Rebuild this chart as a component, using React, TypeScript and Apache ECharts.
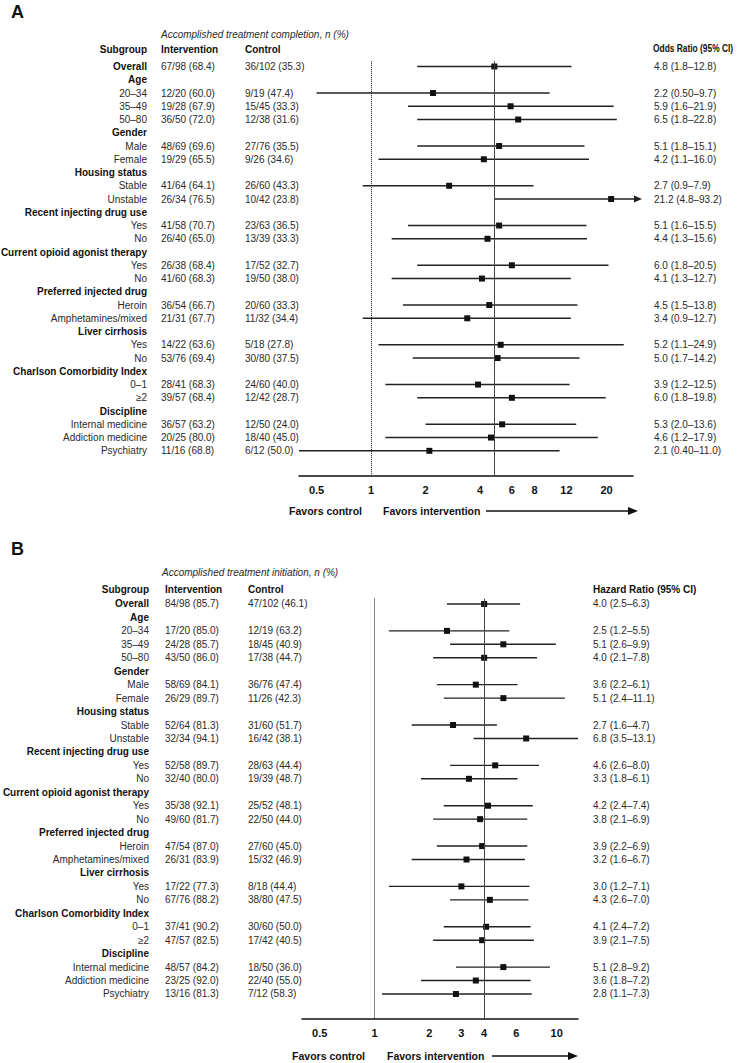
import React, { useEffect, useRef } from "react";
import * as echarts from "echarts";

// ---------- DATA ----------
const subgroups = [
  "Overall", "Age", "20–34", "35–49", "50–80", "Gender", "Male", "Female",
  "Housing status", "Stable", "Unstable", "Recent injecting drug use", "Yes", "No",
  "Current opioid agonist therapy", "Yes", "No", "Preferred injected drug", "Heroin",
  "Amphetamines/mixed", "Liver cirrhosis", "Yes", "No", "Charlson Comorbidity Index",
  "0–1", "≥2", "Discipline", "Internal medicine", "Addiction medicine", "Psychiatry",
];
const boldRows = [0, 1, 5, 8, 11, 14, 17, 20, 23, 26];

// Panel A: treatment completion (odds ratios)
const aIntervention = [
  "67/98 (68.4)", "", "12/20 (60.0)", "19/28 (67.9)", "36/50 (72.0)", "", "48/69 (69.6)", "19/29 (65.5)",
  "", "41/64 (64.1)", "26/34 (76.5)", "", "41/58 (70.7)", "26/40 (65.0)",
  "", "26/38 (68.4)", "41/60 (68.3)", "", "36/54 (66.7)",
  "21/31 (67.7)", "", "14/22 (63.6)", "53/76 (69.4)", "",
  "28/41 (68.3)", "39/57 (68.4)", "", "36/57 (63.2)", "20/25 (80.0)", "11/16 (68.8)",
];
const aControl = [
  "36/102 (35.3)", "", "9/19 (47.4)", "15/45 (33.3)", "12/38 (31.6)", "", "27/76 (35.5)", "9/26 (34.6)",
  "", "26/60 (43.3)", "10/42 (23.8)", "", "23/63 (36.5)", "13/39 (33.3)",
  "", "17/52 (32.7)", "19/50 (38.0)", "", "20/60 (33.3)",
  "11/32 (34.4)", "", "5/18 (27.8)", "30/80 (37.5)", "",
  "24/60 (40.0)", "12/42 (28.7)", "", "12/50 (24.0)", "18/40 (45.0)", "6/12 (50.0)",
];
const aRatio = [
  "4.8", "", "2.2", "5.9", "6.5", "", "5.1", "4.2",
  "", "2.7", "21.2", "", "5.1", "4.4",
  "", "6.0", "4.1", "", "4.5",
  "3.4", "", "5.2", "5.0", "",
  "3.9", "6.0", "", "5.3", "4.6", "2.1",
];
const aLower = [
  "1.8", "", "0.50", "1.6", "1.8", "", "1.8", "1.1",
  "", "0.9", "4.8", "", "1.6", "1.3",
  "", "1.8", "1.3", "", "1.5",
  "0.9", "", "1.1", "1.7", "",
  "1.2", "1.8", "", "2.0", "1.2", "0.40",
];
const aUpper = [
  "12.8", "", "9.7", "21.9", "22.8", "", "15.1", "16.0",
  "", "7.9", "93.2", "", "15.5", "15.6",
  "", "20.5", "12.7", "", "13.8",
  "12.7", "", "24.9", "14.2", "",
  "12.5", "19.8", "", "13.6", "17.9", "11.0",
];

// Panel B: treatment initiation (hazard ratios)
const bIntervention = [
  "84/98 (85.7)", "", "17/20 (85.0)", "24/28 (85.7)", "43/50 (86.0)", "", "58/69 (84.1)", "26/29 (89.7)",
  "", "52/64 (81.3)", "32/34 (94.1)", "", "52/58 (89.7)", "32/40 (80.0)",
  "", "35/38 (92.1)", "49/60 (81.7)", "", "47/54 (87.0)",
  "26/31 (83.9)", "", "17/22 (77.3)", "67/76 (88.2)", "",
  "37/41 (90.2)", "47/57 (82.5)", "", "48/57 (84.2)", "23/25 (92.0)", "13/16 (81.3)",
];
const bControl = [
  "47/102 (46.1)", "", "12/19 (63.2)", "18/45 (40.9)", "17/38 (44.7)", "", "36/76 (47.4)", "11/26 (42.3)",
  "", "31/60 (51.7)", "16/42 (38.1)", "", "28/63 (44.4)", "19/39 (48.7)",
  "", "25/52 (48.1)", "22/50 (44.0)", "", "27/60 (45.0)",
  "15/32 (46.9)", "", "8/18 (44.4)", "38/80 (47.5)", "",
  "30/60 (50.0)", "17/42 (40.5)", "", "18/50 (36.0)", "22/40 (55.0)", "7/12 (58.3)",
];
const bRatio = [
  "4.0", "", "2.5", "5.1", "4.0", "", "3.6", "5.1",
  "", "2.7", "6.8", "", "4.6", "3.3",
  "", "4.2", "3.8", "", "3.9",
  "3.2", "", "3.0", "4.3", "",
  "4.1", "3.9", "", "5.1", "3.6", "2.8",
];
const bLower = [
  "2.5", "", "1.2", "2.6", "2.1", "", "2.2", "2.4",
  "", "1.6", "3.5", "", "2.6", "1.8",
  "", "2.4", "2.1", "", "2.2",
  "1.6", "", "1.2", "2.6", "",
  "2.4", "2.1", "", "2.8", "1.8", "1.1",
];
const bUpper = [
  "6.3", "", "5.5", "9.9", "7.8", "", "6.1", "11.1",
  "", "4.7", "13.1", "", "8.0", "6.1",
  "", "7.4", "6.9", "", "6.9",
  "6.7", "", "7.1", "7.0", "",
  "7.2", "7.5", "", "9.2", "7.2", "7.3",
];

const aTicks = [0.5, 1, 2, 4, 6, 8, 12, 20];
const bTicks = [0.5, 1, 2, 3, 4, 6, 10];
const aRange = [0.4, 28];
const bRange = [0.4, 13.1];

// ---------- HELPERS ----------
const FONT = '"Liberation Sans", Arial, Helvetica, sans-serif';
const log2 = (v: number) => Math.log(v) / Math.LN2;

type Panel = {
  intervention: string[];
  control: string[];
  ratio: string[];
  lower: string[];
  upper: string[];
  ticks: number[];
  range: number[];
  labelX: number;
  intX: number;
  ctrlX: number;
  ciX: number;
};

const panelA: Panel = {
  intervention: aIntervention, control: aControl, ratio: aRatio, lower: aLower, upper: aUpper,
  ticks: aTicks, range: aRange, labelX: 147, intX: 161, ctrlX: 245, ciX: 654,
};
const panelB: Panel = {
  intervention: bIntervention, control: bControl, ratio: bRatio, lower: bLower, upper: bUpper,
  ticks: bTicks, range: bRange, labelX: 149, intX: 165, ctrlX: 248, ciX: 593,
};

function makeRenderItem(p: Panel) {
  return (params: any, api: any) => {
    const i = params.dataIndex;
    const yPix = api.coord([0, i])[1];
    const bold = boldRows.indexOf(i) >= 0;
    const children: any[] = [];
    const txt = (text: string, x: number, align: string, weight: string) => ({
      type: "text",
      style: {
        text, x, y: yPix, align, verticalAlign: "middle",
        fontSize: 10, fontFamily: FONT, fontWeight: weight,
        fill: weight === "bold" ? "#111" : "#2a2a2a",
      },
    });
    children.push(txt(subgroups[i], p.labelX, "right", bold ? "bold" : "normal"));
    if (p.ratio[i] !== "") {
      const r = parseFloat(p.ratio[i]);
      const lo = parseFloat(p.lower[i]);
      const hi = parseFloat(p.upper[i]);
      children.push(txt(p.intervention[i], p.intX, "left", "normal"));
      children.push(txt(p.control[i], p.ctrlX, "left", "normal"));
      children.push(txt(`${p.ratio[i]} (${p.lower[i]}–${p.upper[i]})`, p.ciX, "left", "normal"));
      const x0 = api.coord([log2(Math.max(lo, p.range[0])), i])[0];
      const over = hi > p.range[1];
      const x1 = api.coord([log2(Math.min(hi, p.range[1])), i])[0];
      if (over) {
        const tip = x1 + 9;
        children.push({
          type: "line",
          shape: { x1: x0, y1: yPix, x2: tip - 5, y2: yPix },
          style: { stroke: "#222", lineWidth: 1.4 },
        });
        children.push({
          type: "polygon",
          shape: { points: [[tip - 8, yPix - 3.5], [tip, yPix], [tip - 8, yPix + 3.5]] },
          style: { fill: "#222" },
        });
      } else {
        children.push({
          type: "line",
          shape: { x1: x0, y1: yPix, x2: x1, y2: yPix },
          style: { stroke: "#222", lineWidth: 1.4 },
        });
      }
      const c = api.coord([log2(r), i]);
      children.push({
        type: "rect",
        shape: { x: c[0] - 3, y: yPix - 3, width: 6, height: 6 },
        style: { fill: "#111" },
      });
    }
    return { type: "group", children };
  };
}

function xAxisFor(p: Panel, gridIndex: number) {
  const custom = p.ticks.map(log2);
  return {
    type: "value",
    gridIndex,
    min: log2(p.range[0]),
    max: log2(p.range[1]),
    axisLine: { show: true, onZero: false, lineStyle: { color: "#111", width: 1.5 } },
    axisTick: { show: false },
    splitLine: { show: false },
    axisLabel: {
      customValues: custom,
      margin: 8,
      fontSize: 11,
      fontWeight: "bold",
      fontFamily: FONT,
      color: "#111",
      formatter: (v: number) => {
        let best = p.ticks[0];
        let d = Infinity;
        for (const t of p.ticks) {
          const dd = Math.abs(log2(t) - v);
          if (dd < d) { d = dd; best = t; }
        }
        return String(best);
      },
    },
  };
}

function yAxisFor(gridIndex: number, max: number) {
  return {
    type: "value",
    gridIndex,
    inverse: true,
    min: -0.4,
    max,
    show: false,
    splitLine: { show: false },
  };
}

function refLines(p: Panel, idx: number) {
  return {
    type: "line",
    xAxisIndex: idx,
    yAxisIndex: idx,
    data: [],
    silent: true,
    markLine: {
      silent: true,
      symbol: "none",
      label: { show: false },
      animation: false,
      data: [
        { xAxis: 0, lineStyle: { type: "dotted", color: "#111", width: 1 } },
        { xAxis: log2(parseFloat(p.ratio[0])), lineStyle: { type: "solid", color: "#444", width: 1 } },
      ],
    },
  };
}

const rowIdx = subgroups.map((_, i) => [0, i]);

function txtG(text: string, x: number, y: number, opts: any = {}) {
  return {
    type: "text",
    x, y,
    scaleX: opts.scaleX ?? 1,
    style: {
      text,
      fontSize: opts.fontSize ?? 10,
      fontWeight: opts.fontWeight ?? "bold",
      fontStyle: opts.fontStyle ?? "normal",
      fontFamily: FONT,
      fill: opts.fill ?? "#111",
      align: opts.align ?? "left",
      verticalAlign: "middle",
    },
  };
}

function arrow(x1: number, x2: number, y: number) {
  return [
    { type: "line", shape: { x1, y1: y, x2: x2 - 6, y2: y }, style: { stroke: "#111", lineWidth: 1.5 } },
    { type: "polygon", shape: { points: [[x2 - 10, y - 4], [x2, y], [x2 - 10, y + 4]] }, style: { fill: "#111" } },
  ];
}

export default function App() {
  const ref = useRef<HTMLDivElement>(null);
  useEffect(() => {
    document.body.style.margin = "0";
    if (!ref.current) return;
    const chart = echarts.init(ref.current, undefined, { renderer: "svg" });
    const option: any = {
      animation: false,
      backgroundColor: "#fff",
      grid: [
        { left: 299, width: 334, top: 61.2, height: 414.8 },
        { left: 302, width: 276, top: 598.6, height: 420.4 },
      ],
      xAxis: [xAxisFor(panelA, 0), xAxisFor(panelB, 1)],
      yAxis: [yAxisFor(0, 30.9), yAxisFor(1, 30.86)],
      series: [
        refLines(panelA, 0),
        refLines(panelB, 1),
        {
          type: "custom",
          xAxisIndex: 0, yAxisIndex: 0,
          clip: false,
          data: rowIdx,
          renderItem: makeRenderItem(panelA),
        },
        {
          type: "custom",
          xAxisIndex: 1, yAxisIndex: 1,
          clip: false,
          data: rowIdx,
          renderItem: makeRenderItem(panelB),
        },
      ],
      graphic: [
        txtG("A", 11, 12, { fontSize: 18 }),
        txtG("Accomplished treatment completion, n (%)", 161, 34, { fontWeight: "normal", fontStyle: "italic", fill: "#2a2a2a" }),
        txtG("Subgroup", 147, 49, { align: "right" }),
        txtG("Intervention", 161, 49),
        txtG("Control", 245, 49),
        txtG("Odds Ratio (95% CI)", 653, 49, { scaleX: 0.84 }),
        txtG("Favors control", 362, 511, { align: "right", fontSize: 10.5 }),
        txtG("Favors intervention", 383, 511, { fontSize: 10.5 }),
        ...arrow(486, 638, 511),

        txtG("B", 11, 549, { fontSize: 18 }),
        txtG("Accomplished treatment initiation, n (%)", 162, 572, { fontWeight: "normal", fontStyle: "italic", fill: "#2a2a2a" }),
        txtG("Subgroup", 149, 589, { align: "right" }),
        txtG("Intervention", 165, 589),
        txtG("Control", 248, 589),
        txtG("Hazard Ratio (95% CI)", 593, 589),
        txtG("Favors control", 365, 1056, { align: "right", fontSize: 10.5 }),
        txtG("Favors intervention", 387, 1056, { fontSize: 10.5 }),
        ...arrow(492, 578, 1056),
      ],
    };
    chart.setOption(option);
    return () => chart.dispose();
  }, []);
  return <div ref={ref} style={{ width: 745, height: 1063 }} />;
}
